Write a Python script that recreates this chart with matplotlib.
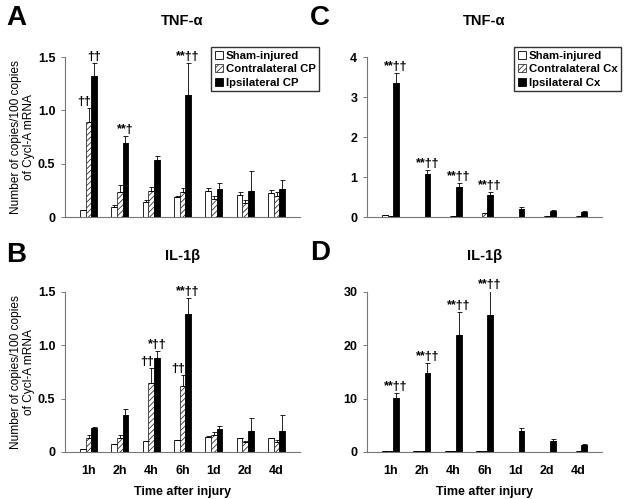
import numpy as np
import matplotlib
matplotlib.use("Agg")
import matplotlib.pyplot as plt

plt.rcParams["font.family"] = ["Liberation Sans", "DejaVu Sans"]
plt.rcParams["hatch.linewidth"] = 0.6

times = ["1h", "2h", "4h", "6h", "1d", "2d", "4d"]

# Panel A: TNF-alpha, choroid plexus
a_sham = [0.07, 0.094, 0.143, 0.187, 0.246, 0.209, 0.228]
a_sham_top = [0.07, 0.115, 0.155, 0.196, 0.27, 0.23, 0.25]
a_contra = [0.886, 0.23, 0.243, 0.23, 0.168, 0.134, 0.196]
a_contra_top = [1.02, 0.30, 0.28, 0.27, 0.20, 0.156, 0.237]
a_ipsi = [1.325, 0.69, 0.533, 1.147, 0.265, 0.243, 0.259]
a_ipsi_top = [1.44, 0.76, 0.574, 1.44, 0.318, 0.433, 0.343]
a_marks = [(0, 1, "††"), (0, 2, "††"), (1, 2, "**†"), (3, 2, "**††")]

# Panel B: IL-1beta, choroid plexus
b_sham = [0.031, 0.075, 0.10, 0.112, 0.14, 0.134, 0.134]
b_sham_top = [0.031, 0.075, 0.10, 0.112, 0.15, 0.134, 0.134]
b_contra = [0.131, 0.131, 0.647, 0.616, 0.16, 0.09, 0.09]
b_contra_top = [0.16, 0.16, 0.79, 0.725, 0.19, 0.106, 0.115]
b_ipsi = [0.225, 0.344, 0.88, 1.29, 0.216, 0.20, 0.20]
b_ipsi_top = [0.23, 0.40, 0.95, 1.44, 0.247, 0.32, 0.35]
b_marks = [(2, 1, "††"), (2, 2, "*††"), (3, 1, "††"), (3, 2, "**††")]

# Panel C: TNF-alpha, cortex
c_sham = [0.058, 0.01, 0.01, 0.01, 0.005, 0.005, 0.005]
c_sham_top = c_sham
c_contra = [0.03, 0.01, 0.02, 0.09, 0.01, 0.02, 0.02]
c_contra_top = c_contra
c_ipsi = [3.35, 1.077, 0.76, 0.54, 0.207, 0.157, 0.13]
c_ipsi_top = [3.61, 1.18, 0.85, 0.62, 0.25, 0.17, 0.15]
c_marks = [(0, 2, "**††"), (1, 2, "**††"), (2, 2, "**††"), (3, 2, "**††")]

# Panel D: IL-1beta, cortex
d_sham = [0.2, 0.1, 0.1, 0.1, 0.05, 0.05, 0.05]
d_sham_top = d_sham
d_contra = [0.1, 0.1, 0.2, 0.2, 0.05, 0.05, 0.1]
d_contra_top = d_contra
d_ipsi = [10.14, 14.8, 22.0, 25.7, 4.0, 2.0, 1.4]
d_ipsi_top = [11.1, 16.6, 26.2, 30.1, 4.45, 2.4, 1.55]
d_marks = [(0, 2, "**††"), (1, 2, "**††"), (2, 2, "**††"), (3, 2, "**††")]

fig = plt.figure(figsize=(6.26, 4.99), dpi=100)

W = 235 / 626
H = 160 / 499
axA = fig.add_axes([65 / 626, 1 - 217 / 499, W, H])
axB = fig.add_axes([65 / 626, 1 - 452 / 499, W, H])
axC = fig.add_axes([367 / 626, 1 - 217 / 499, W, H])
axD = fig.add_axes([367 / 626, 1 - 452 / 499, W, H])

bw = 0.18
x = np.arange(len(times))


def panel(ax, series, marks, ylim, yticks, yticklabels, title, labels):
    styles = [dict(color="white", edgecolor="black"),
              dict(color="white", edgecolor="#333333", hatch="//////"),
              dict(color="black", edgecolor="black")]
    for i, (vals, tops) in enumerate(series):
        vals = np.array(vals)
        err = np.array(tops) - vals
        ax.bar(x + (i - 1) * bw, vals, bw, linewidth=0.6, label=labels[i],
               yerr=[np.zeros_like(err), err], capsize=1.8,
               error_kw=dict(elinewidth=0.6, capthick=0.6, ecolor="black"),
               **styles[i])
    for g, s, txt in marks:
        top = series[s][1][g]
        if s == 1:
            ax.text(x[g] + 0.5 * bw, top, txt, ha="right", va="bottom",
                    fontsize=9, fontweight="bold")
        else:
            ax.text(x[g] + (s - 1) * bw, top, txt, ha="center", va="bottom",
                    fontsize=9, fontweight="bold")
    ax.set_xlim(-0.75, 6.75)
    ax.set_ylim(*ylim)
    ax.set_yticks(yticks)
    ax.set_yticklabels(yticklabels, fontsize=9, fontweight="bold")
    ax.set_xticks(x)
    ax.tick_params(axis="x", length=0)
    ax.tick_params(axis="y", length=3, width=0.6, color="#666666", pad=4)
    for sp in ["top", "right"]:
        ax.spines[sp].set_visible(False)
    for sp in ["left", "bottom"]:
        ax.spines[sp].set_color("#777777")
        ax.spines[sp].set_linewidth(0.8)
    ax.set_title(title, fontsize=10.5, fontweight="bold", pad=0, y=1.2)


labA = ["Sham-injured", "Contralateral CP", "Ipsilateral CP"]
labC = ["Sham-injured", "Contralateral Cx", "Ipsilateral Cx"]

panel(axA, [(a_sham, a_sham_top), (a_contra, a_contra_top), (a_ipsi, a_ipsi_top)],
      a_marks, (0, 1.5), [0, 0.5, 1.0, 1.5], ["0", "0.5", "1.0", "1.5"],
      "TNF-α", labA)
panel(axB, [(b_sham, b_sham_top), (b_contra, b_contra_top), (b_ipsi, b_ipsi_top)],
      b_marks, (0, 1.5), [0, 0.5, 1.0, 1.5], ["0", "0.5", "1.0", "1.5"],
      "IL-1β", labA)
panel(axC, [(c_sham, c_sham_top), (c_contra, c_contra_top), (c_ipsi, c_ipsi_top)],
      c_marks, (0, 4), [0, 1, 2, 3, 4], ["0", "1", "2", "3", "4"],
      "TNF-α", labC)
panel(axD, [(d_sham, d_sham_top), (d_contra, d_contra_top), (d_ipsi, d_ipsi_top)],
      d_marks, (0, 30), [0, 10, 20, 30], ["0", "10", "20", "30"],
      "IL-1β", labC)

for ax in (axA, axC):
    ax.set_xticklabels([])
    ax.legend(loc="upper right", bbox_to_anchor=(1.08, 1.06),
              prop=dict(weight="bold", size=8.2), frameon=True, fancybox=False,
              edgecolor="black", handlelength=0.7, handleheight=0.7,
              handletextpad=0.25, borderpad=0.3, labelspacing=0.3,
              borderaxespad=0)
for ax in (axB, axD):
    ax.set_xticklabels(times, fontsize=9, fontweight="bold")
    ax.tick_params(axis="x", pad=9)
    ax.set_xlabel("Time after injury", fontsize=9, fontweight="bold", labelpad=7)

for ax in (axA, axB):
    ax.set_ylabel("Number of copies/100 copies\nof Cycl-A mRNA", fontsize=8.6,
                  labelpad=2, linespacing=1.1)

for lab, (px, py) in zip("ABCD", [(6, 18), (6, 255), (310, 18), (310, 253)]):
    fig.text(px / 626, 1 - py / 499, lab, fontsize=20, fontweight="bold",
             ha="left", va="center")

fig.savefig("out.png", dpi=100)
